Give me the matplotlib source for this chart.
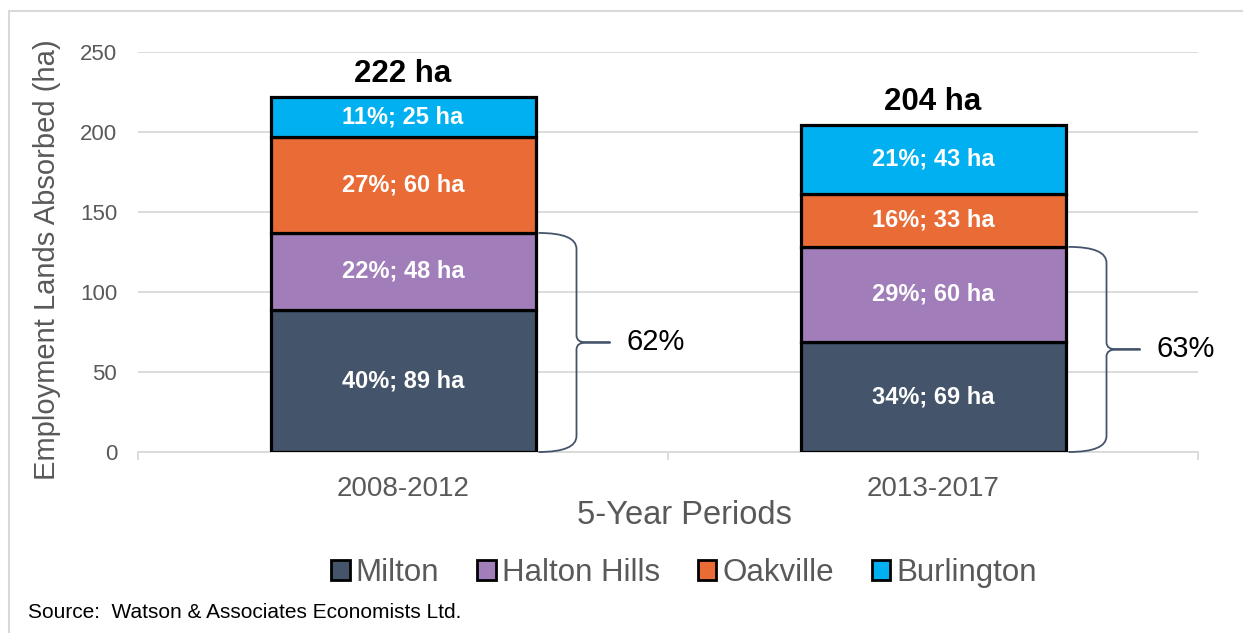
import matplotlib
matplotlib.use("Agg")
import matplotlib.pyplot as plt
from matplotlib.patches import Rectangle, Patch, PathPatch
from matplotlib.path import Path
import numpy as np

plt.rcParams['font.family'] = ['Liberation Sans', 'DejaVu Sans']

periods = ["2008-2012", "2013-2017"]
series = ["Milton", "Halton Hills", "Oakville", "Burlington"]
milton = [88.8, 68.7]
halton_hills = [48.1, 59.5]
oakville = [60.0, 33.3]
burlington = [25.0, 42.8]
colors = ["#44546A", "#A17DBA", "#E96B35", "#00B0F0"]
yticks = [0, 50, 100, 150, 200, 250]

values = [milton, halton_hills, oakville, burlington]

W, H = 1243, 633
fig = plt.figure(figsize=(W / 100, H / 100), dpi=100)
ax = fig.add_axes([138 / W, 1 - 452 / H, (1198 - 138) / W, (452 - 52) / H])

x = np.arange(len(periods))
bw = 0.5
totals = np.sum(np.array(values), axis=0)
bottom = np.zeros(len(periods))
for name, vals, c in zip(series, values, colors):
    vals = np.array(vals)
    ax.bar(x, vals, bw, bottom=bottom, color=c, edgecolor="black",
           linewidth=2.3, zorder=3, label=name)
    for xi, v, b, t in zip(x, vals, bottom, totals):
        ax.text(xi, b + v / 2, f"{round(v / t * 100)}%; {round(v)} ha",
                ha="center", va="center", color="white", fontsize=17,
                fontweight="bold", zorder=4)
    bottom = bottom + vals

for xi, t in zip(x, totals):
    ax.annotate(f"{round(t)} ha", (xi, t), xytext=(0, 6),
                textcoords="offset points", ha="center", va="bottom",
                fontsize=22.5, fontweight="bold", color="black")

# curly braces for Milton + Halton Hills share
brace_col = "#44546A"
px = 1 / 530.0
pu = 1 / 1.6
for xi, t in zip(x, totals):
    ytop = milton[xi] + halton_hills[xi]
    ybot = 0.0
    ymid = (ytop + ybot) / 2
    x0 = xi + bw / 2 + 3 * px
    xv = xi + bw / 2 + 41 * px
    xtip = xi + bw / 2 + 75 * px
    r = 16 * pu
    r2 = 7 * pu
    d = 10 * px
    verts = [
        (x0, ytop), (xv, ytop), (xv, ytop - r),
        (xv, ymid + r2),
        (xv, ymid), (xv + d, ymid),
        (xtip, ymid),
        (xv + d, ymid),
        (xv, ymid), (xv, ymid - r2),
        (xv, ybot + r),
        (xv, ybot), (x0, ybot),
    ]
    codes = [Path.MOVETO, Path.CURVE3, Path.CURVE3,
             Path.LINETO,
             Path.CURVE3, Path.CURVE3,
             Path.LINETO,
             Path.LINETO,
             Path.CURVE3, Path.CURVE3,
             Path.LINETO,
             Path.CURVE3, Path.CURVE3]
    ax.add_patch(PathPatch(Path(verts, codes), fill=False, edgecolor=brace_col,
                           linewidth=1.3, zorder=5, clip_on=False))
    share = round((milton[xi] + halton_hills[xi]) / t * 100)
    ax.text(xi + bw / 2 + 91 * px, ymid, f"{share}%", ha="left", va="center",
            fontsize=21, color="black", clip_on=False)

ax.set_xlim(-0.5, 1.5)
ax.set_ylim(0, 250)
ax.set_yticks(yticks)
ax.set_xticks(x)
ax.set_xticklabels(periods)
ax.set_xticks([-0.5, 0.5, 1.5], minor=True)
ax.tick_params(axis="x", which="major", length=0, pad=17, labelsize=20,
               labelcolor="#595959")
ax.tick_params(axis="x", which="minor", length=6, width=1.3, color="#D9D9D9",
               direction="out")
ax.tick_params(axis="y", length=0, pad=15, labelsize=16, labelcolor="#595959")
ax.grid(axis="y", color="#D9D9D9", linewidth=1.3, zorder=0)
ax.set_axisbelow(True)
for s in ["top", "right", "left"]:
    ax.spines[s].set_visible(False)
ax.spines["bottom"].set_color("#D9D9D9")
ax.spines["bottom"].set_linewidth(1.3)

ax.set_xlabel("5-Year Periods", fontsize=23.5, color="#595959", va="center")
ax.xaxis.set_label_coords((684 - 138) / 1060, -(515 - 452) / 400)
ax.set_ylabel("Employment Lands Absorbed (ha)", fontsize=21, color="#595959",
              va="center")
ax.yaxis.set_label_coords((47 - 138) / 1060, (452 - 260) / 400)

handles = [Patch(facecolor=c, edgecolor="black", linewidth=2, label=n)
           for n, c in zip(series, colors)]
leg = fig.legend(handles=handles, loc="center", ncol=4,
                 bbox_to_anchor=(684 / W, 1 - 573 / H), frameon=False,
                 fontsize=22.5, handlelength=0.6, handleheight=0.6,
                 handletextpad=0.2, columnspacing=1.2, labelcolor="#595959")

fig.text(28 / W, 1 - 613 / H, "Source:  Watson & Associates Economists Ltd.",
         ha="left", va="center", fontsize=15, color="black")

border = Rectangle((9 / W, -0.05), 1.2, 1 - 10.5 / H + 0.05,
                   transform=fig.transFigure, fill=False,
                   edgecolor="#D9D9D9", linewidth=1.5)
fig.add_artist(border)

fig.savefig("out.png", dpi=100)
